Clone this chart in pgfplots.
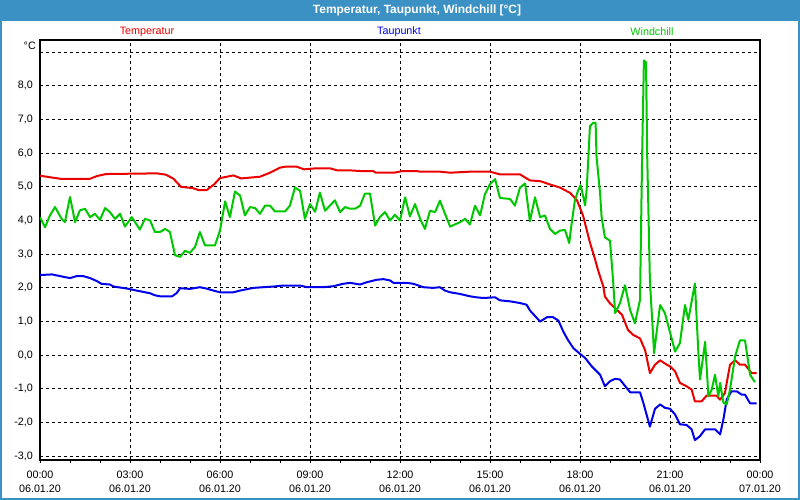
\documentclass[border=0pt]{standalone}
\usepackage{fontspec}
\setmainfont{Liberation Sans}
\usepackage{pgfplots}
\pgfplotsset{compat=1.18}
\definecolor{titleblue}{RGB}{60,145,196}
\definecolor{tcol}{RGB}{235,0,0}
\definecolor{dcol}{RGB}{0,0,235}
\definecolor{wcol}{RGB}{0,200,0}
\begin{document}
\begin{tikzpicture}[x=1bp,y=1bp,font=\fontsize{10.8}{13}\selectfont]
\useasboundingbox (0,0) rectangle (800,500);
\fill[white] (0,0) rectangle (800,500);
\fill[titleblue] (0,479) rectangle (800,500);
\draw[titleblue, line width=2bp] (1,1) rectangle (799,499);
\node[white, font=\fontsize{12}{14}\selectfont\bfseries] at (417,489.5) {Temperatur, Taupunkt, Windchill [°C]};
\node[tcol] at (147,468) {Temperatur};
\node[dcol] at (399,468) {Taupunkt};
\node[wcol] at (652,468) {Windchill};
\node[anchor=east, inner sep=0pt] at (36,454) {°C};

\begin{axis}[
  at={(40bp,40bp)}, anchor=south west,
  scale only axis, width=720bp, height=420bp,
  xmin=0, xmax=24, ymin=-3.11, ymax=9.36,
  axis line style={black, line width=1.5bp},
  xtick={0,3,...,24},
  xticklabels={{00:00\\06.01.20},{03:00\\06.01.20},{06:00\\06.01.20},{09:00\\06.01.20},{12:00\\06.01.20},{15:00\\06.01.20},{18:00\\06.01.20},{21:00\\06.01.20},{00:00\\07.01.20}},
  minor x tick num=2,
  xtick pos=lower, tick align=outside,
  major tick length=3bp, minor tick length=3bp,
  xtick style={black, line width=0.8bp},
  xticklabel style={align=center, font=\fontsize{10.8}{15}\selectfont, yshift=-4bp},
  ytick={-3,...,8},
  yticklabels={{-3,0},{-2,0},{-1,0},{0,0},{1,0},{2,0},{3,0},{4,0},{5,0},{6,0},{7,0},{8,0}},
  ytick style={draw=none},
  yticklabel style={font=\fontsize{10.8}{13}\selectfont, inner sep=0pt, xshift=-4bp},
  extra y ticks={9}, extra y tick labels={},
  extra y tick style={grid=major, ytick style={draw=none}},
  xmajorgrids, ymajorgrids,
  major grid style={black, line width=0.9bp, dash pattern=on 3bp off 3bp},
  every axis plot/.append style={line width=2bp, line join=round, no markers},
]
\addplot[tcol] coordinates {
(0,5.33)(0.67,5.24)(1.67,5.24)(1.9,5.32)(2.2,5.38)(3.9,5.40)(4.2,5.36)(4.45,5.24)(4.7,5.0)(5.1,4.96)(5.3,4.9)(5.55,4.9)(5.8,5.07)(6.0,5.26)(6.45,5.34)(6.7,5.25)(7.33,5.3)(7.67,5.42)(8.0,5.57)(8.2,5.6)(8.55,5.6)(8.8,5.52)(9.2,5.55)(9.67,5.55)(9.9,5.49)(10.3,5.49)(10.67,5.47)(11.1,5.47)(11.2,5.42)(11.8,5.42)(12.1,5.47)(12.55,5.47)(12.67,5.45)(13.33,5.45)(13.67,5.42)(14.33,5.45)(15.0,5.45)(15.33,5.37)(16.0,5.37)(16.33,5.19)(16.67,5.17)(17.0,5.07)(17.33,4.98)(17.67,4.82)(17.9,4.6)(18.1,4.15)(18.33,3.35)(18.5,2.85)(18.6,2.53)(18.78,2.03)(18.83,1.74)(19.0,1.54)(19.17,1.4)(19.4,1.2)(19.6,0.75)(19.78,0.6)(20.0,0.5)(20.17,0.15)(20.33,-0.53)(20.5,-0.28)(20.67,-0.15)(20.89,-0.28)(21.0,-0.33)(21.17,-0.48)(21.33,-0.82)(21.55,-0.92)(21.72,-1.02)(21.83,-1.37)(22.05,-1.37)(22.22,-1.2)(22.55,-1.2)(22.67,-1.32)(22.83,-1.12)(23.0,-0.28)(23.17,-0.15)(23.33,-0.28)(23.5,-0.28)(23.72,-0.53)(23.89,-0.53)
};
\addplot[dcol] coordinates {
(0,2.38)(0.4,2.4)(0.67,2.35)(1.0,2.29)(1.22,2.35)(1.44,2.35)(1.67,2.29)(1.9,2.2)(2.05,2.12)(2.33,2.1)(2.45,2.04)(2.9,1.98)(3.33,1.9)(3.67,1.84)(3.83,1.78)(4.0,1.75)(4.4,1.75)(4.55,1.84)(4.67,1.99)(5.0,1.97)(5.33,2.02)(5.55,1.98)(5.78,1.92)(6.0,1.87)(6.45,1.87)(6.67,1.92)(7.11,2.0)(7.44,2.02)(7.78,2.04)(8.1,2.07)(8.67,2.07)(8.9,2.02)(9.45,2.02)(9.78,2.05)(10.1,2.12)(10.33,2.15)(10.67,2.1)(10.9,2.17)(11.22,2.24)(11.45,2.26)(11.67,2.22)(11.78,2.15)(12.22,2.15)(12.45,2.12)(12.78,2.02)(13.1,2.0)(13.33,2.02)(13.5,1.92)(13.67,1.87)(14.0,1.82)(14.33,1.75)(14.55,1.72)(14.78,1.7)(15.17,1.72)(15.33,1.63)(15.67,1.6)(16.0,1.55)(16.22,1.5)(16.33,1.33)(16.67,1.0)(16.9,1.13)(17.1,1.13)(17.28,1.03)(17.45,0.69)(17.6,0.45)(17.78,0.21)(18.0,0.04)(18.17,-0.08)(18.39,-0.33)(18.67,-0.58)(18.83,-0.92)(19.0,-0.77)(19.17,-0.7)(19.33,-0.72)(19.67,-1.1)(20.0,-1.1)(20.11,-1.41)(20.33,-2.12)(20.5,-1.59)(20.67,-1.46)(20.83,-1.56)(21.0,-1.59)(21.17,-1.76)(21.33,-2.05)(21.55,-2.07)(21.72,-2.2)(21.83,-2.52)(22.0,-2.4)(22.17,-2.2)(22.5,-2.2)(22.67,-2.35)(22.78,-1.9)(22.89,-1.31)(23.05,-1.07)(23.22,-1.07)(23.39,-1.17)(23.5,-1.17)(23.67,-1.43)(23.89,-1.43)
};
\addplot[wcol] coordinates {
(0,4.1)(0.17,3.8)(0.33,4.15)(0.5,4.4)(0.72,4.05)(0.83,3.95)(1.0,4.7)(1.17,3.95)(1.33,4.3)(1.5,4.35)(1.67,4.1)(1.83,4.2)(2.0,4.02)(2.17,4.37)(2.33,4.25)(2.5,4.05)(2.67,4.2)(2.83,3.82)(3.06,4.1)(3.33,3.73)(3.5,4.05)(3.67,4.0)(3.83,3.66)(4.0,3.66)(4.17,3.75)(4.33,3.66)(4.5,2.97)(4.67,2.92)(4.83,3.1)(5.0,3.04)(5.17,3.22)(5.33,3.66)(5.5,3.26)(5.83,3.26)(6.0,3.7)(6.17,4.57)(6.33,4.1)(6.5,4.86)(6.67,4.74)(6.83,4.15)(7.0,4.4)(7.17,4.37)(7.33,4.2)(7.5,4.44)(7.67,4.44)(7.83,4.27)(8.17,4.27)(8.33,4.44)(8.5,4.98)(8.67,4.88)(8.83,4.05)(9.0,4.49)(9.17,4.26)(9.33,4.83)(9.5,4.29)(9.83,4.6)(10.0,4.25)(10.17,4.4)(10.33,4.35)(10.5,4.35)(10.67,4.44)(10.83,4.8)(11.0,4.8)(11.17,3.85)(11.33,4.1)(11.5,4.25)(11.67,4.0)(11.83,4.17)(12.0,4.0)(12.17,4.69)(12.33,4.12)(12.5,4.49)(12.67,4.05)(12.83,3.75)(13.0,4.29)(13.17,4.25)(13.33,4.59)(13.5,4.2)(13.67,3.82)(14.0,3.95)(14.17,4.05)(14.33,3.88)(14.5,4.44)(14.67,4.15)(14.83,4.78)(15.0,5.08)(15.17,5.23)(15.33,4.67)(15.67,4.64)(15.83,4.44)(16.0,4.98)(16.17,5.1)(16.33,3.98)(16.5,4.69)(16.67,4.1)(16.83,4.15)(17.0,3.75)(17.17,3.6)(17.33,3.7)(17.5,3.72)(17.64,3.33)(17.72,3.9)(17.83,4.6)(17.94,4.9)(18.02,5.05)(18.11,4.7)(18.17,4.45)(18.22,4.9)(18.28,5.9)(18.33,6.8)(18.44,6.9)(18.52,6.9)(18.55,5.9)(18.67,4.8)(18.72,4.1)(18.83,3.5)(19.0,3.4)(19.11,2.13)(19.17,1.25)(19.33,1.54)(19.5,2.08)(19.67,1.34)(19.83,0.95)(20.0,1.64)(20.07,5.9)(20.13,8.75)(20.2,8.7)(20.24,5.9)(20.28,4.3)(20.33,2.2)(20.47,0.06)(20.55,0.66)(20.67,1.49)(20.83,1.25)(21.17,0.11)(21.33,0.36)(21.5,1.49)(21.61,1.05)(21.83,2.13)(21.94,0.16)(22.0,-0.72)(22.17,0.4)(22.28,-1.22)(22.39,-1.02)(22.5,-0.58)(22.61,-1.22)(22.67,-0.82)(22.78,-1.41)(22.89,-1.46)(23.0,-1.02)(23.17,-0.03)(23.33,0.44)(23.5,0.44)(23.67,-0.58)(23.83,-0.8)
};
\end{axis}
\end{tikzpicture}
\end{document}
